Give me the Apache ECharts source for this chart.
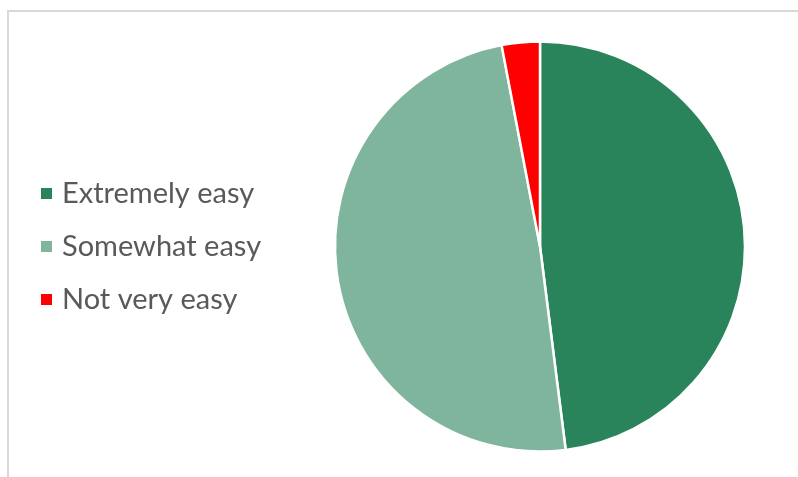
<!DOCTYPE html>
<html>
<head>
<meta charset="utf-8">
<script src="https://cdn.jsdelivr.net/npm/echarts@6/dist/echarts.min.js"></script>
<style>
  html, body { margin: 0; padding: 0; background: #ffffff; }
  #chart { width: 798px; height: 477px; }
</style>
</head>
<body>
<div id="chart"></div>
<script>
// Survey answers and their shares (percent)
const categories = ['Extremely easy', 'Somewhat easy', 'Not very easy'];
const values = [48, 49, 3];
const colors = ['#29845B', '#7FB59C', '#FF0000'];

const chart = echarts.init(document.getElementById('chart'), null, { renderer: 'canvas' });

const pieData = categories.map((name, i) => ({
  name: name,
  value: values[i],
  itemStyle: { color: colors[i] }
}));

chart.setOption({
  animation: false,
  backgroundColor: '#ffffff',
  graphic: [{
    type: 'rect',
    shape: { x: 8, y: 11, width: 820, height: 500 },
    style: { fill: 'none', stroke: '#d9d9d9', lineWidth: 2 },
    silent: true
  }],
  legend: {
    orient: 'vertical',
    left: 34,
    top: 174,
    itemWidth: 13,
    itemHeight: 13,
    itemGap: 24,
    icon: 'rect',
    textStyle: {
      fontFamily: 'Lato',
      fontSize: 29,
      lineHeight: 29,
      color: '#595959',
      padding: [0, 0, 0, 4]
    },
    data: categories
  },
  series: [{
    type: 'pie',
    center: [540, 246.5],
    radius: [0, 205],
    startAngle: 90,
    clockwise: true,
    label: { show: false },
    labelLine: { show: false },
    itemStyle: { borderColor: '#ffffff', borderWidth: 2.5 },
    emphasis: { disabled: true },
    data: pieData
  }]
});
</script>
</body>
</html>
